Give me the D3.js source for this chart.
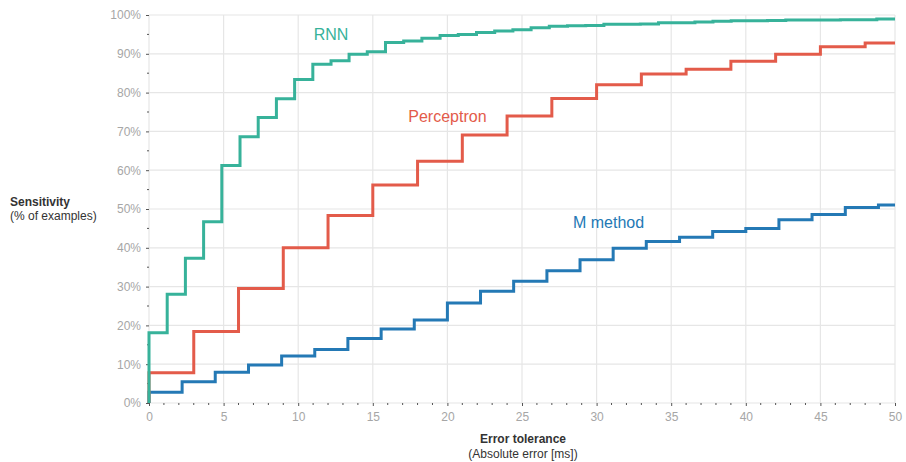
<!DOCTYPE html>
<html><head><meta charset="utf-8">
<script src="https://cdn.jsdelivr.net/npm/d3@7"></script>
<style>
body{margin:0;background:#fff;}
svg{display:block;font-family:"Liberation Sans",Arial,sans-serif;}
</style></head>
<body><svg id="chart" width="906" height="462"></svg>
<script>
// ---- data ----
const rnnX = [0,1.22,2.44,3.66,4.88,6.10,7.32,8.54,9.76,10.98,12.20,13.41,14.63,15.85,17.07,18.29,19.51,20.73,21.95,23.17,24.39,25.61,26.83,28.05,29.27,30.49,31.71,32.93,34.15,35.37,36.59,37.80,39.02,40.24,41.46,42.68,43.90,45.12,46.34,47.56,48.78];
const rnnY = [18.1,28.0,37.3,46.7,61.2,68.6,73.6,78.4,83.4,87.3,88.2,89.9,90.5,92.9,93.3,94.0,94.7,95.0,95.5,95.9,96.2,96.7,97.1,97.2,97.3,97.6,97.6,97.7,98.0,98.0,98.2,98.4,98.5,98.5,98.6,98.7,98.7,98.7,98.8,98.8,99.0];
const percX = [0,3,6,9,12,15,18,21,24,27,30,33,36,39,42,45,48];
const percY = [7.8,18.4,29.5,40.0,48.3,56.2,62.3,69.1,74.0,78.5,82.0,84.8,86.0,88.1,89.9,91.8,92.8];
const mX = [0,2.22,4.44,6.67,8.89,11.11,13.33,15.56,17.78,20.0,22.22,24.44,26.67,28.89,31.11,33.33,35.56,37.78,40.0,42.22,44.44,46.67,48.89];
const mY = [2.8,5.5,7.9,9.8,12.1,13.8,16.6,19.1,21.4,25.8,28.8,31.4,34.1,36.9,39.9,41.6,42.7,44.2,45.0,47.2,48.6,50.4,51.0];
const xTicks = [0,5,10,15,20,25,30,35,40,45,50];
const yTicks = [0,10,20,30,40,50,60,70,80,90,100];
const seriesNames = ["RNN","Perceptron","M method"];
const seriesColors = ["#37b29a","#e35b4a","#2479b5"];

// ---- chart ----
const svg = d3.select("#chart");
const x = d3.scaleLinear().domain([0,50]).range([149,895]);
const y = d3.scaleLinear().domain([0,100]).range([403,15]);

// grid
const grid = svg.append("g");
grid.selectAll("line.v").data(xTicks).join("line")
  .attr("x1",d=>x(d)).attr("x2",d=>x(d)).attr("y1",y(0)).attr("y2",y(100))
  .attr("stroke","#e6e6e6").attr("stroke-width",1.2);
grid.selectAll("line.h").data(yTicks).join("line")
  .attr("x1",x(0)).attr("x2",x(50)).attr("y1",d=>y(d)).attr("y2",d=>y(d))
  .attr("stroke","#e6e6e6").attr("stroke-width",1.2);

// axes
const xAxis = svg.append("g").attr("transform",`translate(0,${y(0)})`)
  .call(d3.axisBottom(x).tickValues(xTicks).tickSize(3).tickPadding(6));
const yAxis = svg.append("g").attr("transform",`translate(${x(0)},0)`)
  .call(d3.axisLeft(y).tickValues(yTicks).tickSize(3).tickPadding(5).tickFormat(d=>d+"%"));
[xAxis,yAxis].forEach(a=>{
  a.select(".domain").remove();
  a.selectAll(".tick line").attr("stroke","#555");
  a.selectAll(".tick text").attr("fill","#a6a6a6").attr("font-size",12).attr("font-family","Liberation Sans, Arial, sans-serif");
});
// minor ticks
const xMinor = d3.range(0,51,1).filter(v=>v%5!==0);
svg.append("g").selectAll("line").data(xMinor).join("line")
  .attr("x1",d=>x(d)).attr("x2",d=>x(d)).attr("y1",y(0)).attr("y2",y(0)+2)
  .attr("stroke","#555").attr("stroke-width",1);
const yMinor = [5,15,25,35,45,55,65,75,85,95];
svg.append("g").selectAll("line").data(yMinor).join("line")
  .attr("x1",x(0)-2).attr("x2",x(0)).attr("y1",d=>y(d)).attr("y2",d=>y(d))
  .attr("stroke","#555").attr("stroke-width",1);

// lines
const line = d3.line().x(d=>x(d[0])).y(d=>y(d[1])).curve(d3.curveStepAfter);
function pts(xs,ys){
  const p=[[0,0]];
  xs.forEach((v,i)=>p.push([v,ys[i]]));
  p.push([50,ys[ys.length-1]]);
  return p;
}
const allSeries = [pts(rnnX,rnnY),pts(percX,percY),pts(mX,mY)];
// draw blue first, then red, then green on top
[2,1,0].forEach(i=>{
  svg.append("path").datum(allSeries[i]).attr("d",line)
    .attr("fill","none").attr("stroke",seriesColors[i]).attr("stroke-width",3)
    .attr("stroke-linejoin","miter");
});

// series labels
const labelPos = [[12.2,93.6],[20.0,72.4],[30.8,45.1]];
svg.append("g").selectAll("text").data(seriesNames).join("text")
  .attr("x",(d,i)=>x(labelPos[i][0])).attr("y",(d,i)=>y(labelPos[i][1]))
  .attr("text-anchor","middle").attr("font-size",16)
  .attr("fill",(d,i)=>seriesColors[i]).text(d=>d);

// axis titles
svg.append("text").attr("x",10).attr("y",206).attr("font-size",12).attr("font-weight","bold").attr("fill","#333").text("Sensitivity");
svg.append("text").attr("x",10).attr("y",220).attr("font-size",12).attr("fill","#333").text("(% of examples)");
svg.append("text").attr("x",523).attr("y",443).attr("text-anchor","middle").attr("font-size",12).attr("font-weight","bold").attr("fill","#333").text("Error tolerance");
svg.append("text").attr("x",523).attr("y",458).attr("text-anchor","middle").attr("font-size",12).attr("fill","#333").text("(Absolute error [ms])");
</script></body></html>
